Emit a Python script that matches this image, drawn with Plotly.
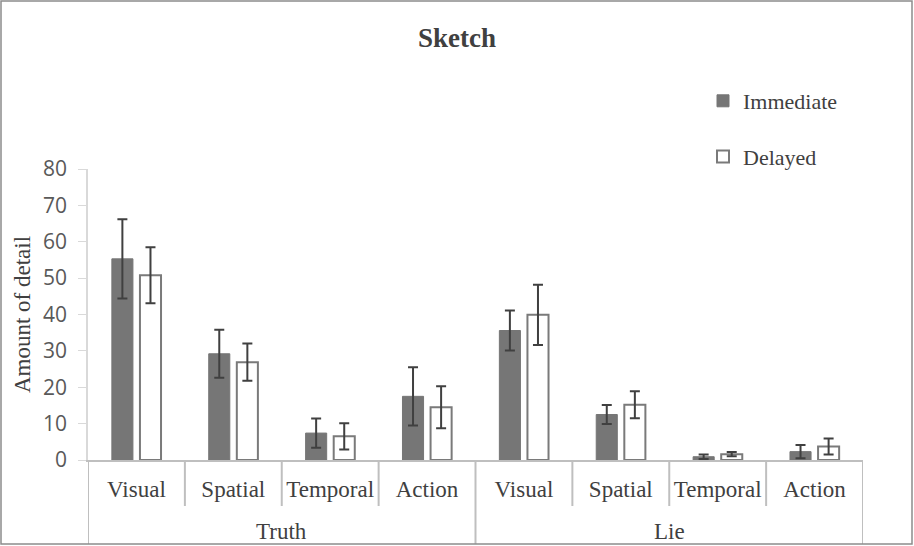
import plotly.graph_objects as go

groups = ["Truth", "Lie"]
details = ["Visual", "Spatial", "Temporal", "Action"]
immediate = [55.3, 29.2, 7.4, 17.5, 35.6, 12.5, 0.9, 2.3]
immediate_err = [10.9, 6.6, 4.0, 8.0, 5.5, 2.6, 0.6, 1.8]
delayed = [50.8, 26.9, 6.5, 14.5, 39.9, 15.2, 1.6, 3.7]
delayed_err = [7.7, 5.1, 3.6, 5.8, 8.3, 3.7, 0.6, 2.2]
y_ticks = [0, 10, 20, 30, 40, 50, 60, 70, 80]

inner_labels = [d for g in groups for d in details]
xpos = list(range(len(inner_labels)))

W, H = 914, 546
ml, mr, mt, mb = 88, 51, 169, 86
pw, ph = W - ml - mr, H - mt - mb

serif = "Liberation Serif"
sans = "Open Sans"

fig = go.Figure()
fig.add_trace(go.Bar(
    x=xpos, y=immediate, name="Immediate", legendgroup="a",
    marker=dict(color="#767676", line=dict(color="#767676", width=1)),
    error_y=dict(type="data", array=immediate_err, color="#404040", thickness=2, width=5),
))
fig.add_trace(go.Bar(
    x=xpos, y=delayed, name="Delayed", legendgroup="b",
    marker=dict(color="white", line=dict(color="#7a7a7a", width=2)),
    error_y=dict(type="data", array=delayed_err, color="#404040", thickness=2, width=5),
))

shapes = []
n = len(inner_labels)
for i in range(n + 1):
    outer = (i % len(details) == 0)
    shapes.append(dict(type="line", xref="x", yref="paper",
                       x0=i - 0.5, x1=i - 0.5, y0=0, y1=-(84 / ph if outer else 46 / ph),
                       line=dict(color="#bfbfbf", width=2)))
shapes.append(dict(type="rect", xref="paper", yref="paper",
                   x0=-(ml - 1) / pw, x1=1 + (mr - 2) / pw,
                   y0=-(mb - 2) / ph, y1=1 + (mt - 1) / ph,
                   line=dict(color="#8c8c8c", width=1.5)))

annotations = []
for gi, g in enumerate(groups):
    center = gi * len(details) + (len(details) - 1) / 2
    annotations.append(dict(x=center, xref="x", y=-71 / ph, yref="paper",
                            text=g, showarrow=False, yanchor="middle",
                            font=dict(family=serif, size=23, color="#404040")))

fig.update_layout(
    width=W, height=H,
    margin=dict(l=ml, r=mr, t=mt, b=mb),
    paper_bgcolor="white", plot_bgcolor="white",
    barmode="group", bargap=0.42, bargroupgap=0.25,
    title=dict(text="<b>Sketch</b>", x=0.5, xanchor="center", y=1 - 38 / H, yanchor="middle",
               font=dict(family=serif, size=27, color="#404040")),
    xaxis=dict(range=[-0.5, n - 0.5], tickmode="array", tickvals=xpos, ticktext=inner_labels,
               showline=True, linecolor="#bfbfbf", linewidth=2, ticks="", showgrid=False,
               zeroline=False, ticklabelstandoff=7,
               tickfont=dict(family=serif, size=23, color="#404040")),
    yaxis=dict(range=[0, 80], tickmode="array", tickvals=y_ticks,
               showline=True, linecolor="#d9d9d9", linewidth=1.5, ticks="outside", ticklen=8,
               tickcolor="#d9d9d9", showgrid=False, zeroline=False, ticklabelstandoff=7,
               tickfont=dict(family=sans, size=21, color="#595959"),
               title=dict(text="Amount of detail", standoff=6,
                          font=dict(family=serif, size=23, color="#404040"))),
    legend=dict(x=(703 - ml) / pw, xanchor="left", y=1 + (mt - 80) / ph, yanchor="top",
                traceorder="grouped", tracegroupgap=24,
                font=dict(family=serif, size=22, color="#404040"), bgcolor="rgba(0,0,0,0)"),
    shapes=shapes, annotations=annotations,
)

fig.write_html("out.html")
